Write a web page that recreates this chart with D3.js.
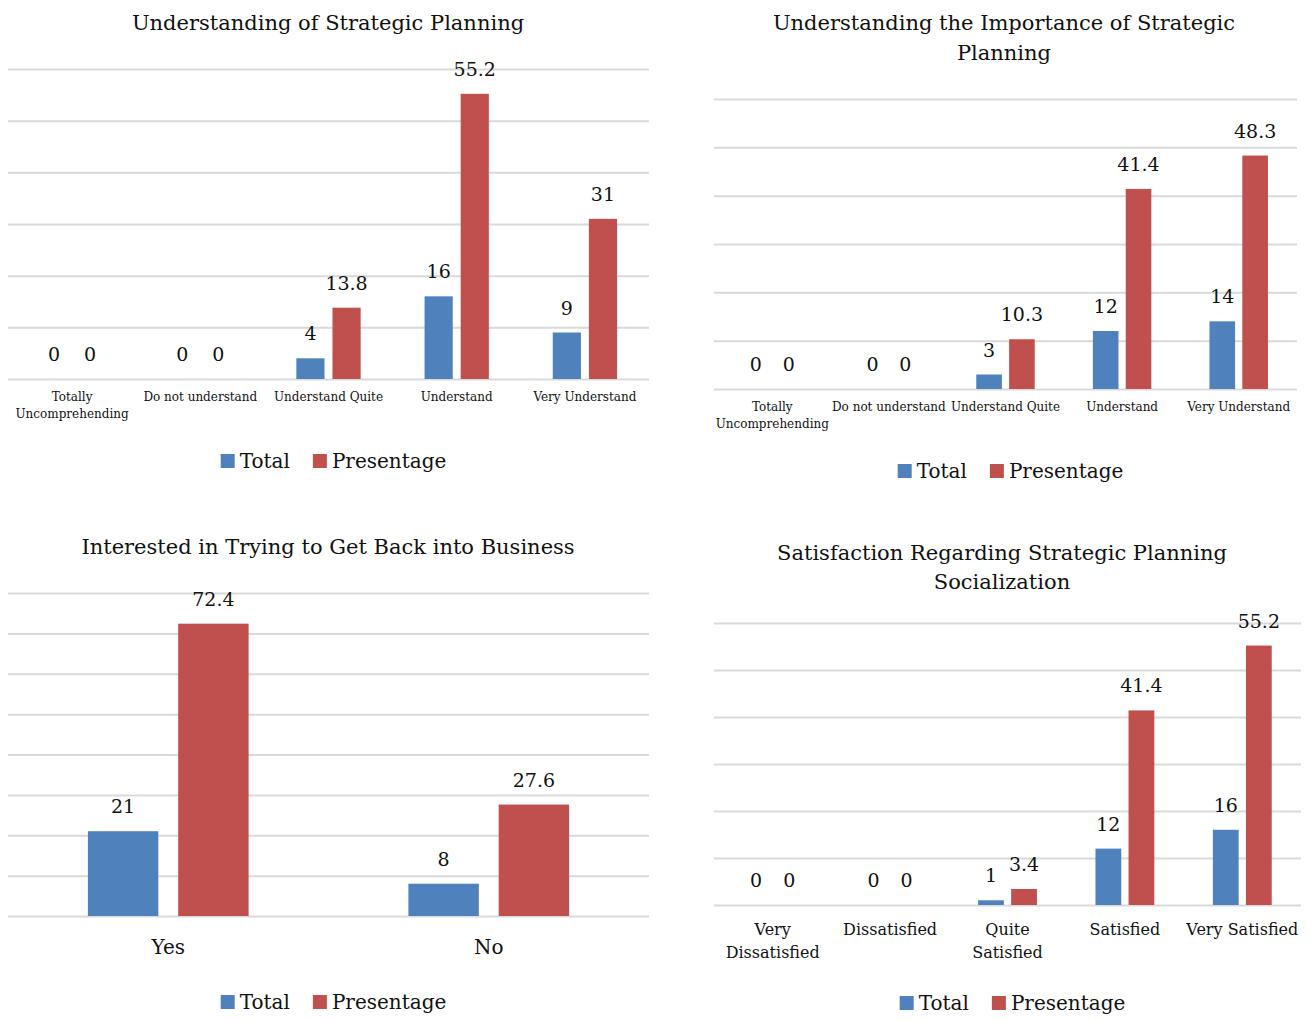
<!DOCTYPE html>
<html>
<head>
<meta charset="utf-8">
<script src="https://cdn.jsdelivr.net/npm/d3@7"></script>
<style>
  html, body { margin: 0; padding: 0; background: #fff; }
  svg { display: block; }
</style>
</head>
<body>
<svg id="chart" width="1311" height="1020"></svg>
<script>
// ---- Data ----
const seriesNames = ["Total", "Presentage"];

const titleUnderstanding = "Understanding of Strategic Planning";
const catsUnderstanding = ["Totally\nUncomprehending", "Do not understand", "Understand Quite", "Understand", "Very Understand"];
const totalUnderstanding = [0, 0, 4, 16, 9];
const pctUnderstanding = [0, 0, 13.8, 55.2, 31];

const titleImportance = "Understanding the Importance of Strategic\nPlanning";
const catsImportance = ["Totally\nUncomprehending", "Do not understand", "Understand Quite", "Understand", "Very Understand"];
const totalImportance = [0, 0, 3, 12, 14];
const pctImportance = [0, 0, 10.3, 41.4, 48.3];

const titleInterest = "Interested in Trying to Get Back into Business";
const catsInterest = ["Yes", "No"];
const totalInterest = [21, 8];
const pctInterest = [72.4, 27.6];

const titleSatisfaction = "Satisfaction Regarding Strategic Planning\nSocialization";
const catsSatisfaction = ["Very\nDissatisfied", "Dissatisfied", "Quite\nSatisfied", "Satisfied", "Very Satisfied"];
const totalSatisfaction = [0, 0, 1, 12, 16];
const pctSatisfaction = [0, 0, 3.4, 41.4, 55.2];

// value-axis maxima and gridline step
const axisMax = [60, 60, 80, 60];
const gridStep = 10;

// ---- Styling ----
const FONT = "'DejaVu Serif', 'Liberation Serif', serif";
const colors = ["#4F81BD", "#C0504D"];
const gridColor = "#d9d9d9";
const textColor = "#111";

// ---- Layout for each chart ----
const panels = [
  { title: titleUnderstanding, cats: catsUnderstanding, values: [totalUnderstanding, pctUnderstanding], yMax: axisMax[0],
    left: 8, right: 649, top: 69, base: 379, titleX: 328, titleY: 22, titleLead: 30,
    catY: 397, catSize: 12, catLead: 17, legendY: 461 },
  { title: titleImportance, cats: catsImportance, values: [totalImportance, pctImportance], yMax: axisMax[1],
    left: 714, right: 1297, top: 99, base: 389, titleX: 1004, titleY: 22, titleLead: 30,
    catY: 407, catSize: 12, catLead: 17, legendY: 471 },
  { title: titleInterest, cats: catsInterest, values: [totalInterest, pctInterest], yMax: axisMax[2],
    left: 8, right: 649, top: 593, base: 916, titleX: 328, titleY: 546, titleLead: 30,
    catY: 947, catSize: 20, catLead: 24, legendY: 1002 },
  { title: titleSatisfaction, cats: catsSatisfaction, values: [totalSatisfaction, pctSatisfaction], yMax: axisMax[3],
    left: 714, right: 1301, top: 623, base: 905, titleX: 1002, titleY: 552, titleLead: 29,
    catY: 929, catSize: 16, catLead: 23.5, legendY: 1003 }
];

const svg = d3.select("#chart");

// baseline offset that places the visual centre of capitals/digits at a given y
const mid = fs => fs * 0.36;

panels.forEach(p => {
  const g = svg.append("g");

  const x0 = d3.scaleBand().domain(p.cats).range([p.left, p.right]).paddingInner(0).paddingOuter(0);
  const x1 = d3.scaleBand().domain(seriesNames).range([0, x0.bandwidth()])
    .paddingInner(0.22).paddingOuter(0.885);
  const y = d3.scaleLinear().domain([0, p.yMax]).range([p.base, p.top]);

  // gridlines
  const grid = g.append("g")
    .attr("transform", `translate(${p.left},0)`)
    .call(d3.axisLeft(y)
      .tickValues(d3.range(0, p.yMax + 0.001, gridStep))
      .tickSize(-(p.right - p.left))
      .tickFormat(""));
  grid.select(".domain").remove();
  grid.selectAll(".tick line").attr("stroke", gridColor).attr("stroke-width", 2);

  // bars + value labels
  const rows = p.cats.map((c, i) => ({ cat: c, vals: seriesNames.map((s, k) => ({ s, k, v: p.values[k][i] })) }));
  const groups = g.selectAll("g.cat").data(rows).join("g")
    .attr("class", "cat")
    .attr("transform", d => `translate(${x0(d.cat)},0)`);

  groups.selectAll("rect").data(d => d.vals).join("rect")
    .attr("x", d => x1(d.s))
    .attr("width", x1.bandwidth())
    .attr("y", d => y(d.v))
    .attr("height", d => y(0) - y(d.v))
    .attr("fill", d => colors[d.k]);

  groups.selectAll("text.val").data(d => d.vals).join("text")
    .attr("class", "val")
    .attr("x", d => x1(d.s) + x1.bandwidth() / 2)
    .attr("y", d => y(d.v) - 18)
    .attr("text-anchor", "middle")
    .attr("font-family", FONT)
    .attr("font-size", 19)
    .attr("fill", textColor)
    .text(d => d.v);

  // category labels
  p.cats.forEach(c => {
    const t = g.append("text")
      .attr("text-anchor", "middle")
      .attr("font-family", FONT)
      .attr("font-size", p.catSize)
      .attr("fill", textColor);
    c.split("\n").forEach((line, li) => {
      t.append("tspan")
        .attr("x", x0(c) + x0.bandwidth() / 2)
        .attr("y", p.catY + li * p.catLead + mid(p.catSize))
        .text(line);
    });
  });

  // title
  const tt = g.append("text")
    .attr("text-anchor", "middle")
    .attr("font-family", FONT)
    .attr("font-size", 21)
    .attr("fill", textColor);
  p.title.split("\n").forEach((line, li) => {
    tt.append("tspan")
      .attr("x", p.titleX)
      .attr("y", p.titleY + li * p.titleLead + mid(21))
      .text(line);
  });

  // legend
  const lg = g.append("g");
  let cx = 0;
  seriesNames.forEach((s, k) => {
    const item = lg.append("g").attr("transform", `translate(${cx},0)`);
    item.append("rect")
      .attr("x", 0).attr("y", -7).attr("width", 14).attr("height", 14)
      .attr("fill", colors[k]);
    const txt = item.append("text")
      .attr("x", 19)
      .attr("y", mid(20))
      .attr("font-family", FONT)
      .attr("font-size", 20)
      .attr("fill", textColor)
      .text(s);
    cx += 19 + txt.node().getComputedTextLength() + 23;
  });
  const lw = cx - 23;
  const lcx = (p.left + p.right) / 2 + 5;
  lg.attr("transform", `translate(${lcx - lw / 2},${p.legendY})`);
});
</script>
</body>
</html>
